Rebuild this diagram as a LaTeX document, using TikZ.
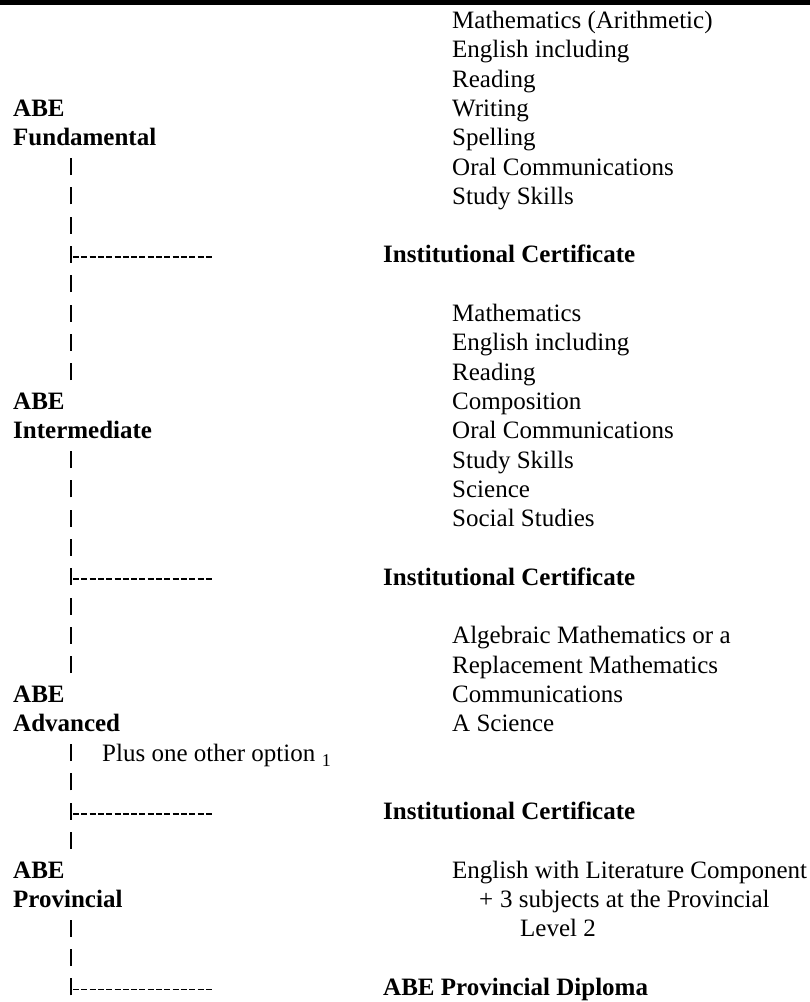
\documentclass[tikz,border=0pt]{standalone}
\usepackage{fontspec}
\setmainfont{Liberation Serif}
\begin{document}
\begin{tikzpicture}[x=1pt,y=-29.3pt,
  txt/.style={anchor=base west, inner sep=0pt, font=\fontsize{25}{28}\selectfont},
  lvl/.style={anchor=base west, inner sep=0pt, font=\fontsize{25}{28}\selectfont\bfseries},
  note/.style={anchor=base west, inner sep=0pt, font=\fontsize{18}{20}\selectfont},
  bar/.style={line width=2pt},
  dashline/.style={line width=1.8pt, dash pattern=on 6pt off 2.3pt}]
\useasboundingbox (0pt,0pt) rectangle (810pt,-1002pt);
\fill (0pt,0pt) rectangle (810pt,-4.5pt);
\begin{scope}[yshift=-28.5pt]
% vertical bars (row indices, 0-based)
\foreach \r in {5,6,7,8,9,10,11,12,15,16,17,18,19,20,21,22,25,26,27,28,31,32,33}
  \draw[bar] (71,\r) -- ++(0pt,17pt);
% dashed branches
\foreach \r/\n in {8/d1,19/d2,27/d3,33/d4}{
  \coordinate (\n s) at ([yshift=6pt]73,\r);
  \coordinate (\n e) at ([yshift=6pt]213,\r);
  \draw[dashline] (\n s) -- (\n e);
}
% left column
\node[lvl] (abe1) at (13,3) {ABE};
\node[lvl] (fund) at (13,4) {Fundamental};
\node[lvl] (abe2) at (13,13) {ABE};
\node[lvl] (inter) at (13,14) {Intermediate};
\node[lvl] (abe3) at (13,23) {ABE};
\node[lvl] (adv) at (13,24) {Advanced};
\node[lvl] (abe4) at (13,29) {ABE};
\node[lvl] (prov) at (13,30) {Provincial};
\node[txt] (plus) at (102,25) {Plus one other option};
\node[note, anchor=base west] (fn1) at ([xshift=6pt,yshift=-5pt]plus.base east) {1};
% certificates
\node[lvl] (c1) at (383,8) {Institutional Certificate};
\node[lvl] (c2) at (383,19) {Institutional Certificate};
\node[lvl] (c3) at (383,27) {Institutional Certificate};
\node[lvl] (c4) at (383,33) {ABE Provincial Diploma};
% right column
\node[txt] (r1) at (452,0) {Mathematics (Arithmetic)};
\node[txt] (r2) at (452,1) {English including};
\node[txt] (r3) at (452,2) {Reading};
\node[txt] (r4) at (452,3) {Writing};
\node[txt] (r5) at (452,4) {Spelling};
\node[txt] (r6) at (452,5) {Oral Communications};
\node[txt] (r7) at (452,6) {Study Skills};
\node[txt] (s1) at (452,10) {Mathematics};
\node[txt] (s2) at (452,11) {English including};
\node[txt] (s3) at (452,12) {Reading};
\node[txt] (s4) at (452,13) {Composition};
\node[txt] (s5) at (452,14) {Oral Communications};
\node[txt] (s6) at (452,15) {Study Skills};
\node[txt] (s7) at (452,16) {Science};
\node[txt] (s8) at (452,17) {Social Studies};
\node[txt] (t1) at (452,21) {Algebraic Mathematics or a};
\node[txt] (t2) at (452,22) {Replacement Mathematics};
\node[txt] (t3) at (452,23) {Communications};
\node[txt] (t4) at (452,24) {A Science};
\node[txt] (u1) at (452,29) {English with Literature Component};
\node[txt] (u2p) at (479,30) {+};
\node[txt] (u2) at (500,30) {3 subjects at the Provincial};
\node[txt] (u3) at (520,31) {Level 2};
\end{scope}
\end{tikzpicture}
\end{document}
